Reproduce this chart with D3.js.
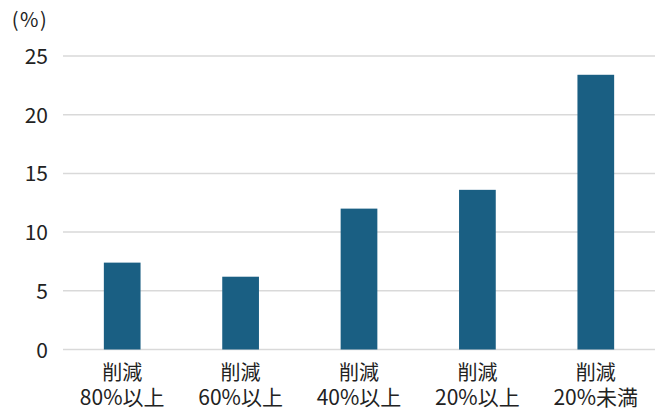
<!DOCTYPE html>
<html><head><meta charset="utf-8">
<script src="https://cdn.jsdelivr.net/npm/d3@7"></script>
<style>body{margin:0;background:#fff}svg{display:block}text{font-family:"Noto Sans CJK JP","Noto Sans",sans-serif;fill:#222}</style>
</head><body><svg id="c" width="661" height="409"></svg>
<script>
const line1 = ["削減","削減","削減","削減","削減"];
const line2 = ["80%以上","60%以上","40%以上","20%以上","20%未満"];
const values = [7.4, 6.2, 12.0, 13.6, 23.4];
const yTicks = [0,5,10,15,20,25];
const unitLabel = "(%)";

const svg = d3.select("#c");
const m = {left:63, right:6, top:56, bottom:59.5};
const W = 661, H = 409;
const x = d3.scaleBand().domain(d3.range(values.length)).range([m.left, W-m.right]).paddingInner(0.69).paddingOuter(0.345);
const y = d3.scaleLinear().domain([0,25]).range([H-m.bottom, m.top]);

svg.append("g").selectAll("line").data(yTicks).join("line")
  .attr("x1", m.left).attr("x2", W-m.right)
  .attr("y1", d=>y(d)).attr("y2", d=>y(d))
  .attr("stroke","#d9d9d9").attr("stroke-width",1.5);

svg.append("g").selectAll("text").data(yTicks).join("text")
  .attr("x", 48).attr("y", d=>y(d)+8)
  .attr("text-anchor","end").attr("font-size",21).text(d=>d);

svg.append("text").attr("x",30).attr("y",27).attr("text-anchor","middle").attr("font-size",20)
  .attr("letter-spacing","1.5px").text(unitLabel);

svg.append("g").selectAll("rect").data(values).join("rect")
  .attr("x",(d,i)=>x(i)).attr("width",x.bandwidth())
  .attr("y",d=>y(d)).attr("height",d=>y(0)-y(d))
  .attr("fill","#1a5f83");

const lab = svg.append("g").selectAll("text").data(values).join("text")
  .attr("text-anchor","middle");
lab.append("tspan").attr("x",(d,i)=>x(i)+x.bandwidth()/2).attr("y",380)
  .attr("font-size",20).text((d,i)=>line1[i]);
lab.append("tspan").attr("x",(d,i)=>x(i)+x.bandwidth()/2).attr("y",405)
  .attr("font-size",21).text((d,i)=>line2[i]);
</script></body></html>
